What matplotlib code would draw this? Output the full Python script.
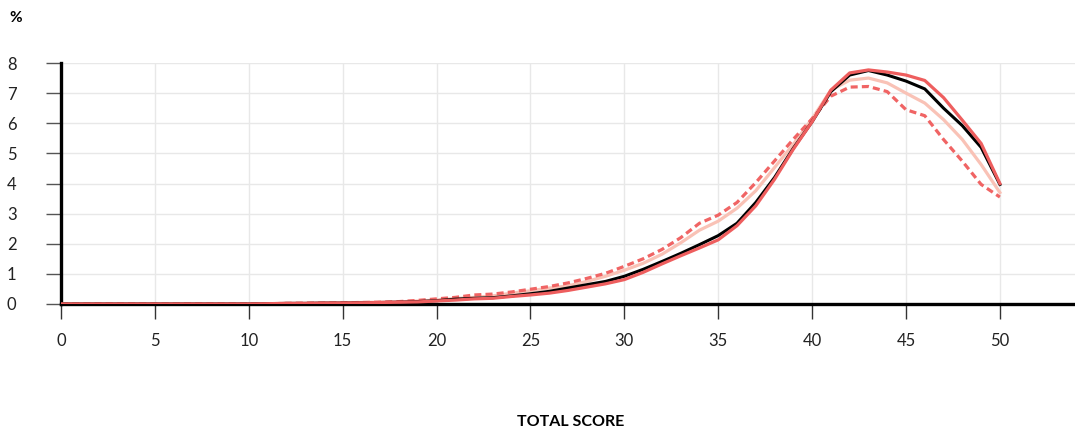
import numpy as np
import matplotlib.pyplot as plt

plt.rcParams['font.family'] = ['Lato', 'DejaVu Sans']

scores = list(range(0, 51))

# share of respondents (%) per total score, four groups
black = [0]*11 + [0.01, 0.02, 0.02, 0.03, 0.03, 0.04, 0.05, 0.06, 0.08,
                  0.11, 0.16, 0.19, 0.21, 0.27, 0.34, 0.42, 0.53, 0.64, 0.75,
                  0.92, 1.15, 1.41, 1.68, 1.97, 2.27, 2.68, 3.37, 4.2, 5.17,
                  6.05, 7.05, 7.6, 7.75, 7.6, 7.4, 7.14, 6.5, 5.92, 5.2, 3.97]
red = [0]*11 + [0.01, 0.02, 0.02, 0.03, 0.03, 0.04, 0.05, 0.06, 0.07,
                0.1, 0.13, 0.17, 0.19, 0.25, 0.3, 0.36, 0.45, 0.56, 0.67,
                0.81, 1.05, 1.33, 1.6, 1.86, 2.13, 2.6, 3.26, 4.14, 5.14,
                6.05, 7.1, 7.67, 7.77, 7.7, 7.6, 7.42, 6.85, 6.1, 5.33, 4.0]
pink = [0]*11 + [0.01, 0.02, 0.02, 0.03, 0.04, 0.05, 0.06, 0.07, 0.1,
                 0.13, 0.18, 0.22, 0.27, 0.36, 0.44, 0.53, 0.6, 0.75, 0.92,
                 1.12, 1.35, 1.65, 2.03, 2.45, 2.75, 3.18, 3.76, 4.53, 5.3,
                 6.15, 7.1, 7.43, 7.5, 7.34, 7.0, 6.67, 6.12, 5.46, 4.63, 3.7]
dashed = [0]*11 + [0.01, 0.02, 0.03, 0.03, 0.04, 0.05, 0.06, 0.08, 0.12,
                   0.17, 0.22, 0.3, 0.33, 0.4, 0.49, 0.58, 0.7, 0.85, 1.02,
                   1.25, 1.5, 1.81, 2.2, 2.68, 2.95, 3.37, 4.03, 4.75, 5.47,
                   6.15, 6.9, 7.2, 7.22, 7.05, 6.45, 6.25, 5.46, 4.74, 3.97, 3.55]

fig = plt.figure(figsize=(10.75, 4.3), dpi=100)
ax = fig.add_axes([61/1075, 1 - 304/430, 1 - 61/1075, (304 - 63)/430])

ax.plot(scores, pink, color='#f9c2b6', lw=2.3, zorder=3, solid_joinstyle='round')
ax.plot(scores, dashed, color='#f06464', lw=2.3, ls=(0, (2.2, 1.3)), zorder=4)
ax.plot(scores, black, color='black', lw=2.2, zorder=5, solid_joinstyle='round')
ax.plot(scores, red, color='#ee5e5e', lw=2.3, zorder=6, solid_joinstyle='round')

ax.set_xlim(0, 54)
ax.set_ylim(0, 8)
ax.set_xticks(range(0, 51, 5))
ax.set_yticks(range(0, 9))
ax.grid(True, color='#e8e8e8', lw=1)
ax.set_axisbelow(True)

for s in ['top', 'right']:
    ax.spines[s].set_visible(False)
ax.spines['left'].set_linewidth(2.4)
ax.spines['bottom'].set_linewidth(2.4)
ax.spines['bottom'].set_zorder(2)

ax.tick_params(axis='y', length=11, width=1, color='#555555', pad=28,
               labelsize=12, labelcolor='#222222')
ax.tick_params(axis='x', length=11, width=1, color='#333333', pad=10,
               labelsize=12, labelcolor='#222222')
for lab in ax.get_yticklabels():
    lab.set_horizontalalignment('left')

fig.text(9/1075, 1 - 18/430, '%', fontsize=11, fontweight='bold',
         va='center', ha='left')
fig.text(571/1075, 1 - 422/430, 'TOTAL SCORE', fontsize=11.5,
         fontweight='bold', va='center', ha='center')

fig.savefig('out.png', dpi=100)
